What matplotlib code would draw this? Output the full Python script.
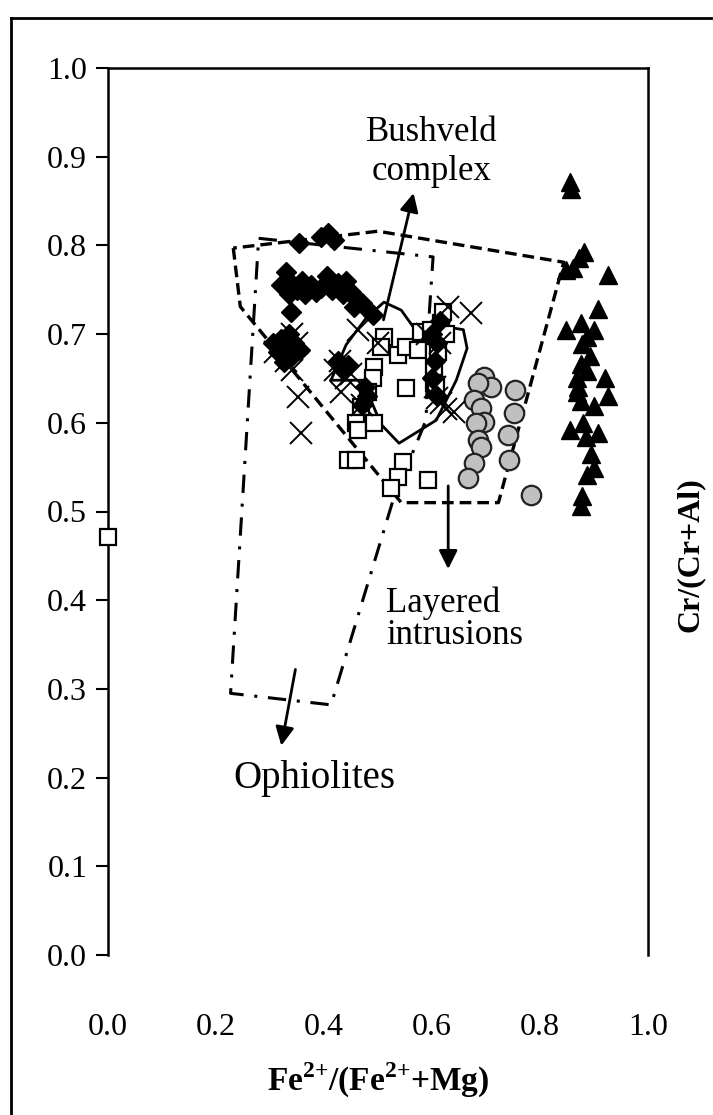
import matplotlib
matplotlib.use("Agg")
import matplotlib.pyplot as plt
from matplotlib.lines import Line2D

plt.rcParams['font.family'] = ['Liberation Serif', 'DejaVu Serif']
plt.rcParams['mathtext.fontset'] = 'custom'
plt.rcParams['mathtext.rm'] = 'Liberation Serif'
plt.rcParams['mathtext.bf'] = 'Liberation Serif:bold'

# ---------------- data ----------------
diamond_x = [0.353, 0.394, 0.407, 0.418,
             0.330, 0.340, 0.335, 0.350, 0.360, 0.365, 0.375, 0.385, 0.395, 0.405, 0.415,
             0.425, 0.435, 0.440, 0.450, 0.460, 0.470, 0.480, 0.490, 0.455, 0.320,
             0.338,
             0.305, 0.315, 0.320, 0.330, 0.340, 0.345, 0.325, 0.335, 0.355,
             0.425, 0.435, 0.445,
             0.600, 0.610, 0.605, 0.615, 0.600, 0.610,
             0.470, 0.480, 0.475]
diamond_y = [0.803, 0.809, 0.814, 0.806,
             0.770, 0.757, 0.745, 0.750, 0.760, 0.745, 0.755, 0.748, 0.752, 0.765, 0.750,
             0.758, 0.745, 0.760, 0.748, 0.740, 0.735, 0.728, 0.722, 0.730, 0.755,
             0.725,
             0.690, 0.680, 0.695, 0.685, 0.675, 0.690, 0.668, 0.700, 0.682,
             0.670, 0.660, 0.665,
             0.700, 0.690, 0.670, 0.715, 0.650, 0.630,
             0.620, 0.630, 0.640]

cross_x = [0.310, 0.330, 0.340, 0.350, 0.351, 0.357, 0.340, 0.431, 0.420, 0.440, 0.430,
           0.450, 0.463, 0.630, 0.673, 0.617, 0.610, 0.625, 0.605, 0.640, 0.500, 0.470,
           0.590, 0.615]
cross_y = [0.680, 0.670, 0.700, 0.690, 0.629, 0.588, 0.660, 0.635, 0.660, 0.650, 0.670,
           0.655, 0.705, 0.731, 0.724, 0.622, 0.628, 0.615, 0.640, 0.612, 0.690, 0.620,
           0.700, 0.690]

square_x = [0.511, 0.506, 0.537, 0.552, 0.580, 0.574, 0.552, 0.493, 0.490, 0.481, 0.468,
            0.459, 0.463, 0.493, 0.604, 0.604, 0.604, 0.617, 0.599, 0.608, 0.611, 0.620,
            0.625, 0.444, 0.459, 0.546, 0.537, 0.524, 0.593, 0.000]
square_y = [0.697, 0.686, 0.677, 0.686, 0.702, 0.682, 0.639, 0.663, 0.650, 0.635, 0.618,
            0.600, 0.592, 0.600, 0.680, 0.660, 0.645, 0.712, 0.705, 0.643, 0.680, 0.725,
            0.700, 0.558, 0.558, 0.556, 0.539, 0.526, 0.535, 0.471]

circle_x = [0.697, 0.710, 0.686, 0.677, 0.691, 0.697, 0.682, 0.686, 0.691, 0.678, 0.667,
            0.753, 0.751, 0.741, 0.743, 0.784]
circle_y = [0.652, 0.640, 0.645, 0.626, 0.617, 0.601, 0.600, 0.581, 0.573, 0.555, 0.538,
            0.637, 0.611, 0.586, 0.558, 0.519]

triangle_x = [0.855, 0.858, 0.872, 0.881, 0.849, 0.862, 0.926, 0.907, 0.849, 0.875, 0.887,
              0.877, 0.900, 0.875, 0.868, 0.887, 0.920, 0.926, 0.868, 0.900, 0.875, 0.855,
              0.885, 0.907, 0.894, 0.900, 0.887, 0.877, 0.875, 0.880, 0.870, 0.892]
triangle_y = [0.871, 0.864, 0.786, 0.793, 0.772, 0.775, 0.767, 0.728, 0.705, 0.712, 0.697,
              0.689, 0.705, 0.666, 0.651, 0.658, 0.651, 0.630, 0.635, 0.619, 0.625, 0.592,
              0.584, 0.588, 0.565, 0.549, 0.541, 0.517, 0.506, 0.600, 0.640, 0.675]

# field outlines
layered_x = [0.232, 0.245, 0.543, 0.723, 0.844, 0.500, 0.232]
layered_y = [0.797, 0.731, 0.510, 0.510, 0.781, 0.816, 0.797]

ophiolite_x = [0.279, 0.602, 0.595, 0.589, 0.528, 0.413, 0.227, 0.279]
ophiolite_y = [0.808, 0.787, 0.724, 0.603, 0.513, 0.282, 0.295, 0.808]

bushveld_x = [0.413, 0.441, 0.478, 0.511, 0.543, 0.576, 0.617, 0.658, 0.665, 0.645,
              0.608, 0.539, 0.506, 0.483, 0.472, 0.413]
bushveld_y = [0.648, 0.688, 0.718, 0.736, 0.727, 0.699, 0.709, 0.705, 0.684, 0.648,
              0.603, 0.577, 0.598, 0.631, 0.648, 0.648]

y_ticks = [0.0, 0.1, 0.2, 0.3, 0.4, 0.5, 0.6, 0.7, 0.8, 0.9, 1.0]
x_ticks = [0.0, 0.2, 0.4, 0.6, 0.8, 1.0]

# ---------------- figure ----------------
W, H = 713, 1115
fig = plt.figure(figsize=(W / 100, H / 100), dpi=100)
ax = fig.add_axes([108 / W, 1 - 955 / H, 540 / W, 887 / H])
ax.set_xlim(0, 1.0)
ax.set_ylim(0, 1.0)

ax.plot(layered_x, layered_y, color='black', lw=2.4, ls=(0, (3.5, 1.8)), zorder=2)
ax.plot(ophiolite_x, ophiolite_y, color='black', lw=2.2, ls=(0, (6, 3.5, 1, 3.5)), zorder=2)
ax.plot(bushveld_x, bushveld_y, color='black', lw=2.0, ls='-', zorder=2)

ax.plot(circle_x, circle_y, 'o', ms=14, mfc='#c0c0c0', mec='#222222', mew=1.6, ls='none', zorder=3)
ax.plot(triangle_x, triangle_y, '^', ms=12.5, mfc='black', mec='black', ls='none', zorder=3)
ax.plot(square_x, square_y, 's', ms=12, mfc='white', mec='black', mew=1.6, ls='none',
        zorder=4, clip_on=False)
ax.plot(diamond_x, diamond_y, 'D', ms=10.5, mfc='black', mec='black', ls='none', zorder=5)
ax.plot(cross_x, cross_y, 'x', ms=16, mec='black', mew=1.4, ls='none', zorder=5)

arrow_kw = dict(arrowstyle='-|>', lw=2.0, color='black', mutation_scale=28)
ax.annotate('', xy=(0.567, 0.862), xytext=(0.509, 0.713), arrowprops=arrow_kw, zorder=6)
ax.annotate('', xy=(0.630, 0.432), xytext=(0.630, 0.532), arrowprops=arrow_kw, zorder=6)
ax.annotate('', xy=(0.320, 0.233), xytext=(0.348, 0.325), arrowprops=arrow_kw, zorder=6)

ax.text(0.60, 0.905, 'Bushveld\ncomplex', fontsize=25, ha='center', va='center',
        linespacing=1.25)
ax.text(0.515, 0.415, 'Layered\nintrusions', fontsize=25, ha='left', va='top',
        linespacing=0.95)
ax.text(0.233, 0.199, 'Ophiolites', fontsize=28, ha='left', va='center')

ax.set_yticks(y_ticks)
ax.set_yticklabels([f'{v:.1f}' for v in y_ticks])
ax.set_xticks(x_ticks)
ax.set_xticklabels([f'{v:.1f}' for v in x_ticks])
ax.tick_params(axis='y', direction='out', length=9, width=1.5, labelsize=23, pad=6)
ax.tick_params(axis='x', length=0, labelsize=23, pad=42)

for s in ['left', 'right', 'top']:
    ax.spines[s].set_linewidth(1.8)
ax.spines['bottom'].set_visible(False)

fig.text(378 / W, 1 - 1080 / H, r'Fe$^{\mathbf{2{+}}}$/(Fe$^{\mathbf{2{+}}}$+Mg)', fontsize=24,
         fontweight='bold', ha='center', va='center')
fig.text(690 / W, 1 - 555 / H, 'Cr/(Cr+Al)', fontsize=23, fontweight='bold', rotation=90,
         ha='center', va='center')

# outer frame
fig.add_artist(Line2D([11 / W, 11 / W], [-0.01, 1 - 18 / H], transform=fig.transFigure,
                      color='black', lw=2.0))
fig.add_artist(Line2D([11 / W, 1.01], [1 - 18 / H, 1 - 18 / H], transform=fig.transFigure,
                      color='black', lw=2.0))

fig.savefig('out.png', dpi=100)
